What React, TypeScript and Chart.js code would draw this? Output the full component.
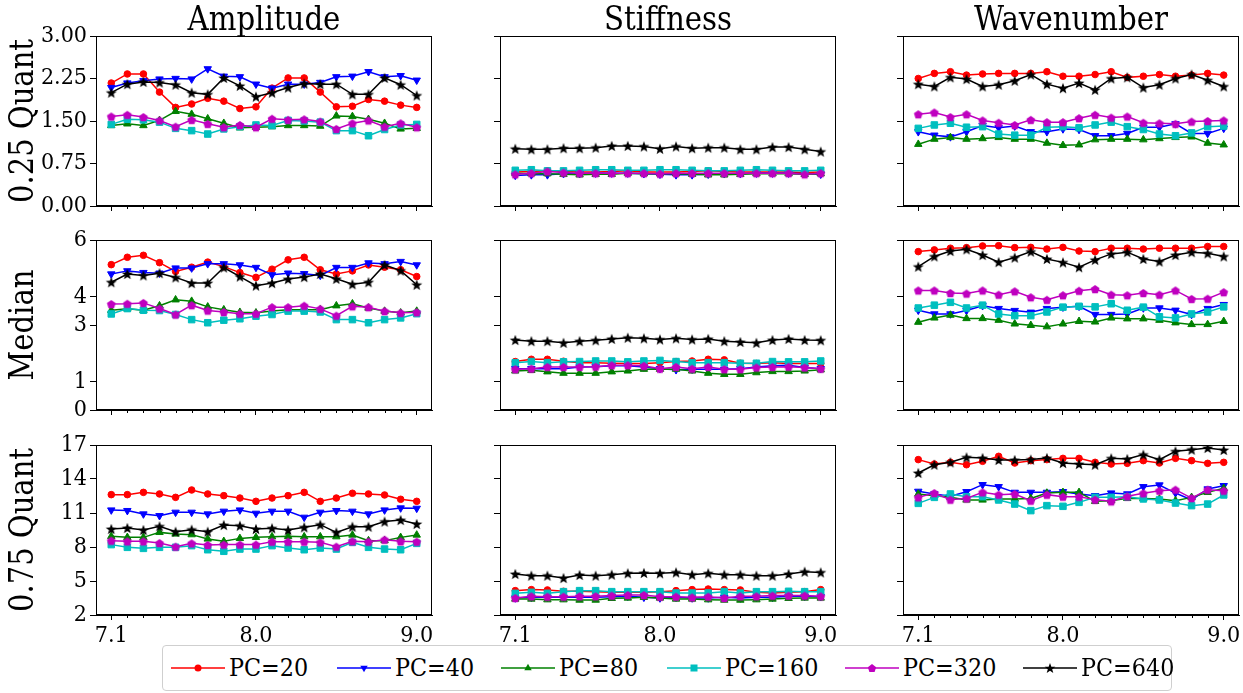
import React, { useEffect, useRef } from 'react';
import { Chart, registerables } from 'chart.js';

Chart.register(...registerables);

// ---------------- data ----------------
const xValues = [7.1, 7.2, 7.3, 7.4, 7.5, 7.6, 7.7, 7.8, 7.9, 8.0, 8.1, 8.2, 8.3, 8.4, 8.5, 8.6, 8.7, 8.8, 8.9, 9.0];
const xMajorTicks = [7.1, 8.0, 9.0];
const columnTitles = ['Amplitude', 'Stiffness', 'Wavenumber'];
const rowTitles = ['0.25 Quant', 'Median', '0.75 Quant'];
const seriesLabels = ['PC=20', 'PC=40', 'PC=80', 'PC=160', 'PC=320', 'PC=640'];
const seriesColors = ['#ff0000', '#0000ff', '#008000', '#00bfbf', '#bf00bf', '#000000'];

const yTicksQ25 = [0, 0.75, 1.5, 2.25, 3.0];
const yTicksMedian = [0, 1, 3, 4, 6];
const yTicksQ75 = [2, 5, 8, 11, 14, 17];

// Amplitude
const amp25_20 = [2.17, 2.33, 2.33, 2.01, 1.74, 1.80, 1.90, 1.85, 1.72, 1.75, 2.08, 2.26, 2.26, 2.01, 1.75, 1.76, 1.88, 1.85, 1.78, 1.74];
const amp25_40 = [2.09, 2.17, 2.21, 2.24, 2.25, 2.24, 2.42, 2.29, 2.28, 2.15, 2.08, 2.15, 2.15, 2.18, 2.28, 2.29, 2.37, 2.28, 2.30, 2.22];
const amp25_80 = [1.42, 1.45, 1.42, 1.51, 1.67, 1.62, 1.54, 1.46, 1.38, 1.39, 1.40, 1.42, 1.42, 1.41, 1.59, 1.58, 1.53, 1.46, 1.36, 1.37];
const amp25_160 = [1.44, 1.53, 1.52, 1.48, 1.37, 1.33, 1.27, 1.36, 1.40, 1.43, 1.42, 1.51, 1.50, 1.48, 1.33, 1.33, 1.24, 1.35, 1.43, 1.44];
const amp25_320 = [1.58, 1.61, 1.57, 1.51, 1.40, 1.52, 1.45, 1.39, 1.43, 1.39, 1.54, 1.52, 1.53, 1.49, 1.36, 1.46, 1.51, 1.40, 1.46, 1.39];
const amp25_640 = [2.00, 2.15, 2.19, 2.18, 2.14, 2.00, 1.97, 2.26, 2.12, 1.93, 2.00, 2.09, 2.16, 2.15, 2.15, 1.97, 1.97, 2.26, 2.14, 1.95];

const ampMed_20 = [5.13, 5.39, 5.46, 5.20, 4.89, 5.04, 5.22, 5.06, 4.85, 4.68, 4.97, 5.30, 5.39, 4.95, 4.80, 4.91, 5.12, 5.04, 4.95, 4.71];
const ampMed_40 = [4.80, 4.91, 4.85, 4.83, 5.01, 5.01, 5.16, 5.16, 5.12, 5.03, 4.77, 4.83, 4.81, 4.75, 5.03, 5.03, 5.19, 5.16, 5.24, 5.12];
const ampMed_80 = [3.52, 3.57, 3.52, 3.68, 3.89, 3.84, 3.64, 3.54, 3.45, 3.43, 3.49, 3.54, 3.54, 3.54, 3.68, 3.75, 3.60, 3.49, 3.43, 3.49];
const ampMed_160 = [3.39, 3.58, 3.52, 3.51, 3.37, 3.19, 3.08, 3.17, 3.22, 3.31, 3.37, 3.49, 3.49, 3.46, 3.19, 3.19, 3.08, 3.19, 3.25, 3.40];
const ampMed_320 = [3.74, 3.75, 3.78, 3.58, 3.37, 3.70, 3.51, 3.46, 3.40, 3.40, 3.63, 3.63, 3.68, 3.57, 3.33, 3.66, 3.63, 3.49, 3.43, 3.45];
const ampMed_640 = [4.51, 4.80, 4.75, 4.83, 4.68, 4.48, 4.48, 5.03, 4.71, 4.39, 4.48, 4.62, 4.69, 4.80, 4.63, 4.44, 4.51, 5.12, 4.92, 4.42];

const amp75_20 = [12.62, 12.62, 12.82, 12.68, 12.38, 13.03, 12.68, 12.53, 12.32, 12.03, 12.32, 12.53, 12.82, 12.03, 12.32, 12.74, 12.68, 12.59, 12.21, 12.03];
const amp75_40 = [11.26, 11.21, 10.91, 10.76, 11.06, 11.06, 10.91, 11.15, 11.26, 10.97, 11.15, 11.15, 10.62, 11.06, 11.21, 11.15, 10.91, 11.26, 11.44, 11.41];
const amp75_80 = [8.94, 8.85, 8.85, 9.29, 9.15, 9.09, 8.71, 8.50, 8.76, 8.85, 8.91, 8.94, 8.91, 8.91, 8.91, 9.06, 8.56, 8.56, 8.85, 9.06];
const amp75_160 = [8.21, 7.97, 7.88, 7.97, 7.97, 8.12, 7.76, 7.62, 7.82, 7.82, 8.12, 7.91, 7.76, 7.91, 7.82, 8.41, 7.97, 7.82, 7.76, 8.32];
const amp75_320 = [8.56, 8.50, 8.50, 8.35, 8.03, 8.32, 8.18, 8.21, 8.21, 8.21, 8.47, 8.47, 8.47, 8.41, 8.03, 8.50, 8.47, 8.65, 8.50, 8.47];
const amp75_640 = [9.59, 9.68, 9.50, 9.82, 9.35, 9.53, 9.35, 9.94, 9.88, 9.59, 9.65, 9.50, 9.74, 9.97, 9.29, 9.79, 9.79, 10.24, 10.38, 10.03];

// Stiffness
const stf25_20 = [0.60, 0.61, 0.62, 0.61, 0.60, 0.60, 0.61, 0.62, 0.60, 0.60, 0.60, 0.61, 0.62, 0.61, 0.60, 0.60, 0.60, 0.60, 0.59, 0.60];
const stf25_40 = [0.54, 0.55, 0.55, 0.57, 0.57, 0.58, 0.58, 0.58, 0.57, 0.56, 0.55, 0.55, 0.56, 0.57, 0.57, 0.58, 0.58, 0.58, 0.57, 0.56];
const stf25_80 = [0.58, 0.57, 0.57, 0.56, 0.55, 0.56, 0.56, 0.58, 0.57, 0.57, 0.57, 0.56, 0.55, 0.55, 0.56, 0.57, 0.57, 0.57, 0.56, 0.57];
const stf25_160 = [0.63, 0.64, 0.62, 0.62, 0.63, 0.64, 0.64, 0.63, 0.63, 0.64, 0.64, 0.63, 0.62, 0.62, 0.63, 0.64, 0.63, 0.62, 0.62, 0.63];
const stf25_320 = [0.56, 0.58, 0.61, 0.59, 0.58, 0.58, 0.58, 0.58, 0.58, 0.57, 0.58, 0.58, 0.58, 0.58, 0.58, 0.58, 0.58, 0.58, 0.56, 0.58];
const stf25_640 = [1.01, 1.00, 1.00, 1.02, 1.02, 1.03, 1.06, 1.06, 1.05, 1.01, 1.05, 1.02, 1.03, 1.03, 1.00, 1.00, 1.04, 1.04, 1.00, 0.96];

const stfMed_20 = [1.71, 1.79, 1.79, 1.72, 1.67, 1.67, 1.65, 1.64, 1.64, 1.67, 1.71, 1.73, 1.79, 1.77, 1.65, 1.64, 1.67, 1.64, 1.64, 1.64];
const stfMed_40 = [1.46, 1.46, 1.46, 1.46, 1.52, 1.53, 1.56, 1.56, 1.52, 1.46, 1.42, 1.44, 1.44, 1.44, 1.46, 1.52, 1.56, 1.58, 1.50, 1.46];
const stfMed_80 = [1.38, 1.40, 1.35, 1.30, 1.30, 1.30, 1.35, 1.38, 1.44, 1.44, 1.44, 1.38, 1.30, 1.26, 1.26, 1.32, 1.36, 1.36, 1.38, 1.42];
const stfMed_160 = [1.67, 1.71, 1.67, 1.70, 1.71, 1.73, 1.73, 1.70, 1.73, 1.75, 1.71, 1.67, 1.67, 1.67, 1.65, 1.65, 1.71, 1.70, 1.70, 1.73];
const stfMed_320 = [1.44, 1.46, 1.52, 1.52, 1.52, 1.53, 1.58, 1.58, 1.56, 1.46, 1.52, 1.46, 1.52, 1.44, 1.44, 1.50, 1.52, 1.53, 1.50, 1.46];
const stfMed_640 = [2.47, 2.43, 2.43, 2.37, 2.43, 2.46, 2.51, 2.55, 2.53, 2.49, 2.53, 2.49, 2.51, 2.43, 2.40, 2.37, 2.47, 2.51, 2.47, 2.46];

const stf75_20 = [4.15, 4.24, 4.21, 4.09, 4.09, 4.06, 4.00, 4.00, 4.00, 4.06, 4.15, 4.24, 4.29, 4.24, 4.21, 4.00, 3.94, 4.00, 4.06, 4.24];
const stf75_40 = [3.50, 3.56, 3.56, 3.56, 3.56, 3.56, 3.62, 3.65, 3.56, 3.50, 3.56, 3.50, 3.50, 3.56, 3.50, 3.56, 3.56, 3.65, 3.65, 3.62];
const stf75_80 = [3.41, 3.41, 3.35, 3.35, 3.32, 3.32, 3.47, 3.50, 3.56, 3.50, 3.41, 3.41, 3.35, 3.32, 3.32, 3.35, 3.41, 3.47, 3.50, 3.50];
const stf75_160 = [3.91, 4.00, 3.91, 4.06, 4.15, 4.15, 4.06, 4.06, 4.06, 4.06, 3.94, 3.94, 3.94, 4.06, 3.94, 4.06, 4.06, 4.09, 4.06, 4.06];
const stf75_320 = [3.50, 3.65, 3.62, 3.62, 3.65, 3.65, 3.71, 3.76, 3.76, 3.62, 3.62, 3.56, 3.62, 3.50, 3.65, 3.65, 3.71, 3.71, 3.71, 3.65];
const stf75_640 = [5.62, 5.47, 5.47, 5.26, 5.53, 5.47, 5.56, 5.68, 5.71, 5.68, 5.76, 5.56, 5.68, 5.56, 5.56, 5.47, 5.47, 5.62, 5.82, 5.76];

// Wavenumber
const wav25_20 = [2.25, 2.34, 2.37, 2.31, 2.33, 2.34, 2.34, 2.34, 2.37, 2.29, 2.29, 2.32, 2.37, 2.27, 2.29, 2.32, 2.29, 2.31, 2.34, 2.31];
const wav25_40 = [1.31, 1.25, 1.22, 1.31, 1.42, 1.38, 1.41, 1.31, 1.31, 1.36, 1.35, 1.24, 1.24, 1.28, 1.39, 1.39, 1.45, 1.28, 1.28, 1.37];
const wav25_80 = [1.09, 1.18, 1.21, 1.18, 1.19, 1.21, 1.18, 1.18, 1.11, 1.07, 1.08, 1.17, 1.18, 1.18, 1.17, 1.19, 1.21, 1.22, 1.11, 1.08];
const wav25_160 = [1.37, 1.43, 1.46, 1.39, 1.40, 1.27, 1.25, 1.25, 1.39, 1.40, 1.38, 1.43, 1.48, 1.40, 1.35, 1.27, 1.24, 1.29, 1.40, 1.41];
const wav25_320 = [1.62, 1.65, 1.57, 1.62, 1.51, 1.47, 1.43, 1.52, 1.48, 1.48, 1.55, 1.61, 1.56, 1.58, 1.47, 1.46, 1.45, 1.49, 1.50, 1.51];
const wav25_640 = [2.15, 2.11, 2.27, 2.24, 2.11, 2.14, 2.21, 2.32, 2.15, 2.08, 2.17, 2.05, 2.25, 2.27, 2.09, 2.14, 2.25, 2.32, 2.22, 2.11];

const wavMed_20 = [5.59, 5.65, 5.71, 5.73, 5.79, 5.80, 5.73, 5.74, 5.68, 5.74, 5.61, 5.59, 5.71, 5.71, 5.68, 5.71, 5.71, 5.71, 5.77, 5.77];
const wavMed_40 = [3.52, 3.39, 3.39, 3.51, 3.68, 3.58, 3.51, 3.45, 3.58, 3.63, 3.66, 3.37, 3.37, 3.39, 3.60, 3.60, 3.52, 3.37, 3.58, 3.72];
const wavMed_80 = [3.10, 3.25, 3.35, 3.23, 3.23, 3.17, 3.04, 2.99, 2.94, 3.04, 3.13, 3.11, 3.25, 3.22, 3.22, 3.17, 3.08, 3.02, 3.02, 3.13];
const wavMed_160 = [3.60, 3.70, 3.80, 3.60, 3.70, 3.39, 3.33, 3.33, 3.46, 3.63, 3.66, 3.64, 3.75, 3.52, 3.63, 3.29, 3.25, 3.39, 3.46, 3.64];
const wavMed_320 = [4.22, 4.22, 4.13, 4.11, 4.22, 4.07, 4.19, 3.98, 3.89, 4.05, 4.21, 4.27, 4.07, 4.05, 4.13, 4.07, 4.22, 3.92, 3.93, 4.16];
const wavMed_640 = [5.06, 5.42, 5.61, 5.67, 5.47, 5.22, 5.38, 5.59, 5.33, 5.21, 5.04, 5.30, 5.51, 5.57, 5.33, 5.24, 5.47, 5.57, 5.53, 5.42];

const wav75_20 = [15.71, 15.32, 15.47, 15.26, 15.56, 16.00, 15.41, 15.62, 15.71, 15.82, 15.82, 15.47, 15.32, 15.38, 15.62, 15.41, 15.82, 15.62, 15.38, 15.47];
const wav75_40 = [12.91, 12.68, 12.47, 12.88, 13.50, 13.32, 12.82, 12.82, 12.82, 12.88, 12.68, 12.53, 12.76, 12.68, 13.32, 13.47, 12.76, 12.15, 13.12, 13.41];
const wav75_80 = [12.68, 12.53, 12.38, 12.15, 12.15, 12.24, 12.24, 12.29, 12.76, 12.82, 12.82, 12.03, 12.09, 12.29, 12.29, 12.24, 12.09, 12.38, 12.82, 13.18];
const wav75_160 = [11.85, 12.38, 12.68, 12.44, 12.44, 12.15, 11.79, 11.21, 11.65, 11.59, 11.94, 12.38, 12.38, 12.44, 12.24, 12.15, 11.88, 11.65, 11.79, 12.59];
const wav75_320 = [12.38, 12.76, 12.18, 12.29, 12.82, 12.62, 12.68, 12.09, 12.62, 12.44, 12.44, 12.18, 12.03, 12.47, 12.74, 12.97, 13.06, 12.32, 13.06, 12.97];
const wav75_640 = [14.53, 15.26, 15.47, 15.91, 15.85, 15.68, 15.68, 15.71, 15.85, 15.41, 15.32, 15.26, 15.82, 15.76, 16.15, 15.71, 16.44, 16.59, 16.74, 16.56];

const panelSeries = [
  [
    [amp25_20, amp25_40, amp25_80, amp25_160, amp25_320, amp25_640],
    [stf25_20, stf25_40, stf25_80, stf25_160, stf25_320, stf25_640],
    [wav25_20, wav25_40, wav25_80, wav25_160, wav25_320, wav25_640],
  ],
  [
    [ampMed_20, ampMed_40, ampMed_80, ampMed_160, ampMed_320, ampMed_640],
    [stfMed_20, stfMed_40, stfMed_80, stfMed_160, stfMed_320, stfMed_640],
    [wavMed_20, wavMed_40, wavMed_80, wavMed_160, wavMed_320, wavMed_640],
  ],
  [
    [amp75_20, amp75_40, amp75_80, amp75_160, amp75_320, amp75_640],
    [stf75_20, stf75_40, stf75_80, stf75_160, stf75_320, stf75_640],
    [wav75_20, wav75_40, wav75_80, wav75_160, wav75_320, wav75_640],
  ],
];
const rowYTicks = [yTicksQ25, yTicksMedian, yTicksQ75];

// ---------------- layout / style ----------------
const FONT_HTML = "'DejaVu Serif'";
const FONT_TICK = "'DejaVu Serif Condensed', 'DejaVu Serif'";
const COL_LEFT = [96, 500, 903];
const ROW_TOP = [36, 240, 445];
const PW = 336;
const PH = 170;
const PAD_TOP = 14;
const PAD_RIGHT = 8;
const LEGEND_ITEM_X = [171, 337, 501, 667, 845, 1023];

Chart.defaults.font.family = FONT_TICK;
Chart.defaults.color = '#000';

function makeShapeCanvas(color: string, kind: 'star' | 'pentagon') {
  const s = 14;
  const cv = document.createElement('canvas');
  cv.width = s;
  cv.height = s;
  const g = cv.getContext('2d')!;
  g.fillStyle = color;
  g.beginPath();
  const n = kind === 'star' ? 10 : 5;
  for (let i = 0; i < n; i++) {
    const r = kind === 'star' ? (i % 2 === 0 ? 5.8 : 2.4) : 4.6;
    const a = -Math.PI / 2 + (i * 2 * Math.PI) / n;
    const px = s / 2 + r * Math.cos(a);
    const py = s / 2 + 0.5 + r * Math.sin(a);
    if (i === 0) g.moveTo(px, py);
    else g.lineTo(px, py);
  }
  g.closePath();
  g.fill();
  return cv;
}

function pointStyleFor(i: number): any {
  if (i === 0) return { pointStyle: 'circle', pointRadius: 3.3, pointRotation: 0 };
  if (i === 1) return { pointStyle: 'triangle', pointRadius: 4.3, pointRotation: 180 };
  if (i === 2) return { pointStyle: 'triangle', pointRadius: 4.3, pointRotation: 0 };
  if (i === 3) return { pointStyle: 'rect', pointRadius: 4.6, pointRotation: 0 };
  if (i === 4) return { pointStyle: makeShapeCanvas(seriesColors[4], 'pentagon'), pointRadius: 4.5, pointRotation: 0 };
  return { pointStyle: makeShapeCanvas(seriesColors[5], 'star'), pointRadius: 5, pointRotation: 0 };
}

const framePlugin = {
  id: 'frameAndMinor',
  afterDraw(chart: any) {
    const { ctx, chartArea: a } = chart;
    const xs = chart.scales.x;
    ctx.save();
    ctx.strokeStyle = '#000';
    ctx.lineWidth = 1;
    xValues.forEach((v) => {
      if (xMajorTicks.some((t) => Math.abs(t - v) < 1e-6)) return;
      const px = Math.round(xs.getPixelForValue(v)) + 0.5;
      ctx.beginPath();
      ctx.moveTo(px, a.bottom);
      ctx.lineTo(px, a.bottom + 3);
      ctx.stroke();
    });
    ctx.strokeRect(Math.round(a.left) + 0.5, Math.round(a.top) + 0.5, Math.round(a.right - a.left) - 1, Math.round(a.bottom - a.top) - 1);
    ctx.restore();
  },
};

function Panel({ r, c }: { r: number; c: number }) {
  const ref = useRef<HTMLCanvasElement>(null);
  const yw = c === 0 ? 96 : 30;
  const xh = r === 2 ? 44 : 12;
  const width = yw + PW + PAD_RIGHT;
  const height = PAD_TOP + PH + xh;
  const left = COL_LEFT[c] - yw;
  const top = ROW_TOP[r] - PAD_TOP;

  useEffect(() => {
    const series = panelSeries[r][c];
    const yt = rowYTicks[r];
    const chart = new Chart(ref.current!, {
      type: 'line',
      data: {
        datasets: seriesLabels.map((lab, i) => ({
          label: lab,
          data: xValues.map((x, k) => ({ x, y: series[i][k] })),
          borderColor: seriesColors[i],
          backgroundColor: seriesColors[i],
          borderWidth: 1.5,
          pointBackgroundColor: seriesColors[i],
          pointBorderColor: seriesColors[i],
          pointBorderWidth: 1,
          tension: 0,
          order: seriesLabels.length - 1 - i,
          ...pointStyleFor(i),
        })),
      },
      options: {
        responsive: false,
        animation: false,
        devicePixelRatio: 1,
        events: [],
        layout: { padding: { top: PAD_TOP, right: PAD_RIGHT, left: 0, bottom: 0 } },
        plugins: { legend: { display: false }, tooltip: { enabled: false }, title: { display: false } },
        scales: {
          x: {
            type: 'linear',
            min: 7.005,
            max: 9.095,
            afterBuildTicks: (s: any) => {
              s.ticks = xMajorTicks.map((v) => ({ value: v }));
            },
            afterFit: (s: any) => {
              s.height = xh;
              s.paddingLeft = 0;
              s.paddingRight = 0;
            },
            grid: { drawOnChartArea: false, drawTicks: true, tickLength: 5, tickColor: '#000', tickWidth: 1 },
            border: { display: true, color: '#000', width: 1 },
            ticks: {
              display: r === 2,
              autoSkip: false,
              maxRotation: 0,
              padding: 2,
              color: '#000',
              font: { family: FONT_TICK, size: 23 },
              callback: (v: any) => Number(v).toFixed(1),
            },
          },
          y: {
            type: 'linear',
            min: yt[0],
            max: yt[yt.length - 1],
            afterBuildTicks: (s: any) => {
              s.ticks = yt.map((v) => ({ value: v }));
            },
            afterFit: (s: any) => {
              s.width = yw;
              s.paddingTop = 0;
              s.paddingBottom = 0;
            },
            grid: { drawOnChartArea: false, drawTicks: true, tickLength: 6, tickColor: '#000', tickWidth: 1 },
            border: { display: true, color: '#000', width: 1 },
            ticks: {
              display: c === 0,
              padding: 3,
              color: '#000',
              font: { family: FONT_TICK, size: 23 },
              callback: (v: any) => (r === 0 ? Number(v).toFixed(2) : String(v)),
            },
          },
        },
      },
      plugins: [framePlugin],
    } as any);
    return () => chart.destroy();
  }, [r, c]);

  return (
    <canvas
      ref={ref}
      width={width}
      height={height}
      style={{ position: 'absolute', left, top, width, height }}
    />
  );
}

function LegendMarker({ i }: { i: number }) {
  const col = seriesColors[i];
  const cx = 27;
  const cy = 7;
  let m: any = null;
  if (i === 0) m = <circle cx={cx} cy={cy} r={3.5} fill={col} />;
  else if (i === 1) m = <polygon points={`${cx - 3.7},${cy - 2.2} ${cx + 3.7},${cy - 2.2} ${cx},${cy + 4.3}`} fill={col} />;
  else if (i === 2) m = <polygon points={`${cx - 3.7},${cy + 2.2} ${cx + 3.7},${cy + 2.2} ${cx},${cy - 4.3}`} fill={col} />;
  else if (i === 3) m = <rect x={cx - 3.5} y={cy - 3.5} width={7} height={7} fill={col} />;
  else {
    const n = i === 4 ? 5 : 10;
    const pts: string[] = [];
    for (let k = 0; k < n; k++) {
      const rr = i === 4 ? 4.4 : k % 2 === 0 ? 5.6 : 2.3;
      const a = -Math.PI / 2 + (k * 2 * Math.PI) / n;
      pts.push(`${cx + rr * Math.cos(a)},${cy + 0.5 + rr * Math.sin(a)}`);
    }
    m = <polygon points={pts.join(' ')} fill={col} />;
  }
  return (
    <svg width={54} height={14} style={{ display: 'block' }}>
      <line x1={0} y1={cy} x2={54} y2={cy} stroke={col} strokeWidth={1.5} />
      {m}
    </svg>
  );
}

export default function App() {
  const panels: any[] = [];
  for (let r = 0; r < 3; r++) for (let c = 0; c < 3; c++) panels.push(<Panel key={`${r}-${c}`} r={r} c={c} />);
  return (
    <div style={{ position: 'absolute', left: 0, top: 0, width: 1243, height: 693, background: '#fff', overflow: 'hidden', fontFamily: FONT_HTML }}>
      {panels}
      {columnTitles.map((t, c) => (
        <div
          key={t}
          style={{
            position: 'absolute',
            left: COL_LEFT[c],
            top: 1,
            width: PW,
            textAlign: 'center',
            fontSize: 34,
            lineHeight: '34px',
            color: '#000',
            whiteSpace: 'nowrap',
            transform: 'scaleX(0.86)',
            transformOrigin: 'center center',
          }}
        >
          {t}
        </div>
      ))}
      {rowTitles.map((t, r) => (
        <div
          key={t}
          style={{
            position: 'absolute',
            left: 21,
            top: ROW_TOP[r] + PH / 2,
            fontSize: 33,
            lineHeight: '33px',
            color: '#000',
            whiteSpace: 'nowrap',
            transform: 'translate(-50%, -50%) rotate(-90deg) scaleX(0.88)',
          }}
        >
          {t}
        </div>
      ))}
      <div
        style={{
          position: 'absolute',
          left: 162,
          top: 645,
          width: 1010,
          height: 46,
          border: '1px solid #cfcfcf',
          borderRadius: 4,
          boxSizing: 'border-box',
          background: '#fff',
        }}
      >
        {seriesLabels.map((lab, i) => (
          <div
            key={lab}
            style={{ position: 'absolute', left: LEGEND_ITEM_X[i] - 163, top: 0, height: 44, display: 'flex', alignItems: 'center' }}
          >
            <LegendMarker i={i} />
            <span
              style={{
                marginLeft: 4,
                fontSize: 24,
                lineHeight: '24px',
                color: '#000',
                whiteSpace: 'nowrap',
                display: 'inline-block',
                transform: 'scaleX(0.93)',
                transformOrigin: 'left center',
              }}
            >
              {lab}
            </span>
          </div>
        ))}
      </div>
    </div>
  );
}
